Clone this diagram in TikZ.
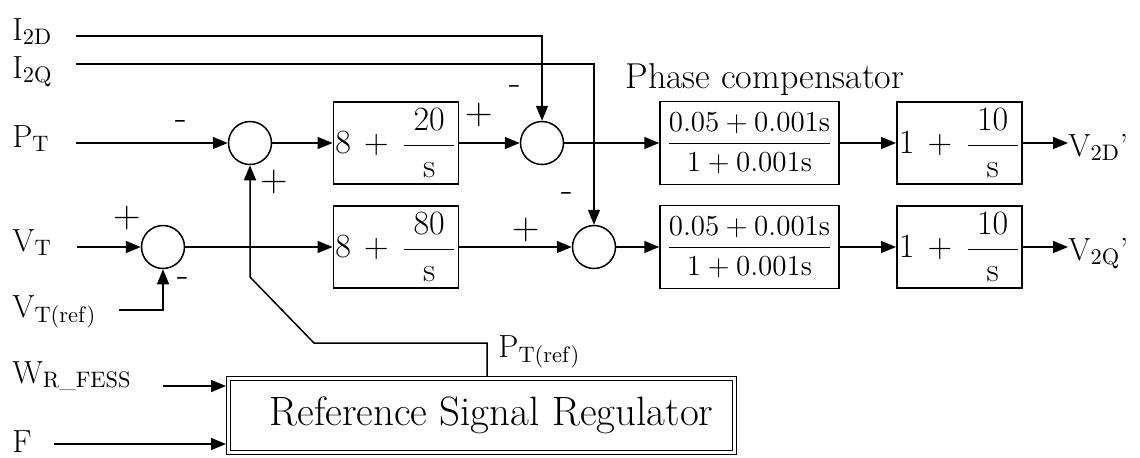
\RequirePackage{fix-cm}
\documentclass[tikz,border=0pt]{standalone}
\usepackage{amsmath}
\usepackage{tikz}
\usetikzlibrary{arrows.meta,positioning}

\begin{document}
\begin{tikzpicture}[x=0.5pt,y=-0.5pt,
  font=\fontsize{16}{19}\selectfont,
  sig/.style={-{Triangle[length=7.5pt,width=6pt]},line width=0.75pt},
  sumnode/.style={draw,circle,line width=0.75pt,minimum size=21.5pt,inner sep=0pt},
  gainbox/.style={draw,line width=0.75pt,minimum width=62pt,minimum height=41pt,
                  inner sep=1pt,font=\fontsize{17}{20}\selectfont},
  phasebox/.style={draw,line width=0.75pt,minimum width=89.5pt,minimum height=41.5pt,
                   inner sep=1pt,font=\fontsize{14.5}{17}\selectfont},
  regbox/.style={draw,double,line width=0.6pt,double distance=1.3pt,outer sep=1.25pt,
                 minimum width=253pt,minimum height=37pt,font=\fontsize{20.5}{24}\selectfont},
  inlabel/.style={anchor=base west,inner sep=0pt},
  sgn/.style={inner sep=0pt,font=\fontsize{19}{22}\selectfont},
]
\useasboundingbox (0,0) rectangle (1140,457);

% input labels
\node[inlabel] (lbI2D) at (12,40)  {I$_{\mathrm{2D}}$};
\node[inlabel] (lbI2Q) at (12,78)  {I$_{\mathrm{2Q}}$};
\node[inlabel] (lbPT)  at (12,147) {P$_{\mathrm{T}}$};
\node[inlabel] (lbVT)  at (12,251) {V$_{\mathrm{T}}$};
\node[inlabel] (lbVTr) at (12,317) {V$_{\mathrm{T(ref)}}$};
\node[inlabel] (lbW)   at (12,383) {W$_{\mathrm{R\_FESS}}$};
\node[inlabel] (lbF)   at (12,452) {F};

\coordinate (i2d)  at (76,36);
\coordinate (i2q)  at (76,64);
\coordinate (ptin) at (76,143);
\coordinate (vtin) at (77,247);
\coordinate (vtrin) at (119,310);
\coordinate (wrin) at (163,386);
\coordinate (fin)  at (54,444);

% upper row
\node[sumnode] (s1) at (250,143) {};
\node[gainbox] (kp1) at (396,143) {$8\,+\,\dfrac{\;20\;}{\mathrm{s}}$};
\node[sumnode] (s2) at (542,143) {};
\node[phasebox] (ph1) at (749.5,143) {$\dfrac{0.05+0.001\mathrm{s}}{1+0.001\mathrm{s}}$};
\node[gainbox] (pi1) at (959.5,143) {$1\,+\,\dfrac{\;10\;}{\mathrm{s}}$};
\node[inlabel] (v2d) at (1068,156) {V$_{\mathrm{2D}}$’};
\node[inlabel,font=\fontsize{18}{21}\selectfont] (phlbl) at (625,88) {Phase compensator};

% lower row
\node[sumnode] (s3) at (163,247) {};
\node[gainbox] (kp2) at (396,247) {$8\,+\,\dfrac{\;80\;}{\mathrm{s}}$};
\node[sumnode] (s4) at (594,247) {};
\node[phasebox] (ph2) at (749.5,247) {$\dfrac{0.05+0.001\mathrm{s}}{1+0.001\mathrm{s}}$};
\node[gainbox] (pi2) at (959.5,247) {$1\,+\,\dfrac{\;10\;}{\mathrm{s}}$};
\node[inlabel] (v2q) at (1068,260) {V$_{\mathrm{2Q}}$’};

% regulator
\node[regbox] (reg) at (481.5,415.5) {\hspace*{10pt}Reference Signal Regulator};
\node[inlabel] (lbPTr) at (498,357) {P$_{\mathrm{T(ref)}}$};

% signs
\node[sgn] (sgA) at (181,125) {-};
\node[sgn] (sgB) at (274,182) {+};
\node[sgn] (sgC) at (479,115) {+};
\node[sgn] (sgD) at (515,90)  {-};
\node[sgn] (sgE) at (127,218) {+};
\node[sgn] (sgF) at (183,282) {-};
\node[sgn] (sgG) at (526,230) {+};
\node[sgn] (sgH) at (567,197) {-};

% connectors
\draw[sig] (i2d) -| (s2.north);
\draw[sig] (i2q) -| (s4.north);
\draw[sig] (ptin) -- (s1.west);
\draw[sig] (s1) -- (kp1);
\draw[sig] (kp1) -- (s2);
\draw[sig] (s2) -- (ph1);
\draw[sig] (ph1) -- (pi1);
\draw[sig] (pi1.east) -- (pi1.east -| v2d.west);

\draw[sig] (vtin) -- (s3.west);
\draw[sig] (vtrin) -| (s3.south);
\draw[sig] (s3) -- (kp2);
\draw[sig] (kp2) -- (s4);
\draw[sig] (s4) -- (ph2);
\draw[sig] (ph2) -- (pi2);
\draw[sig] (pi2.east) -- (pi2.east -| v2q.west);

\coordinate (fbtop) at (487,343);
\coordinate (fbturn) at (314,343);
\coordinate (fbkink) at (250,277);
\draw[sig] (reg.north -| fbtop) -- (fbtop) -- (fbturn) -- (fbkink) -- (s1.south);

\draw[sig] (wrin) -- (wrin -| reg.west);
\draw[sig] (fin) -- (fin -| reg.west);
\end{tikzpicture}
\end{document}
